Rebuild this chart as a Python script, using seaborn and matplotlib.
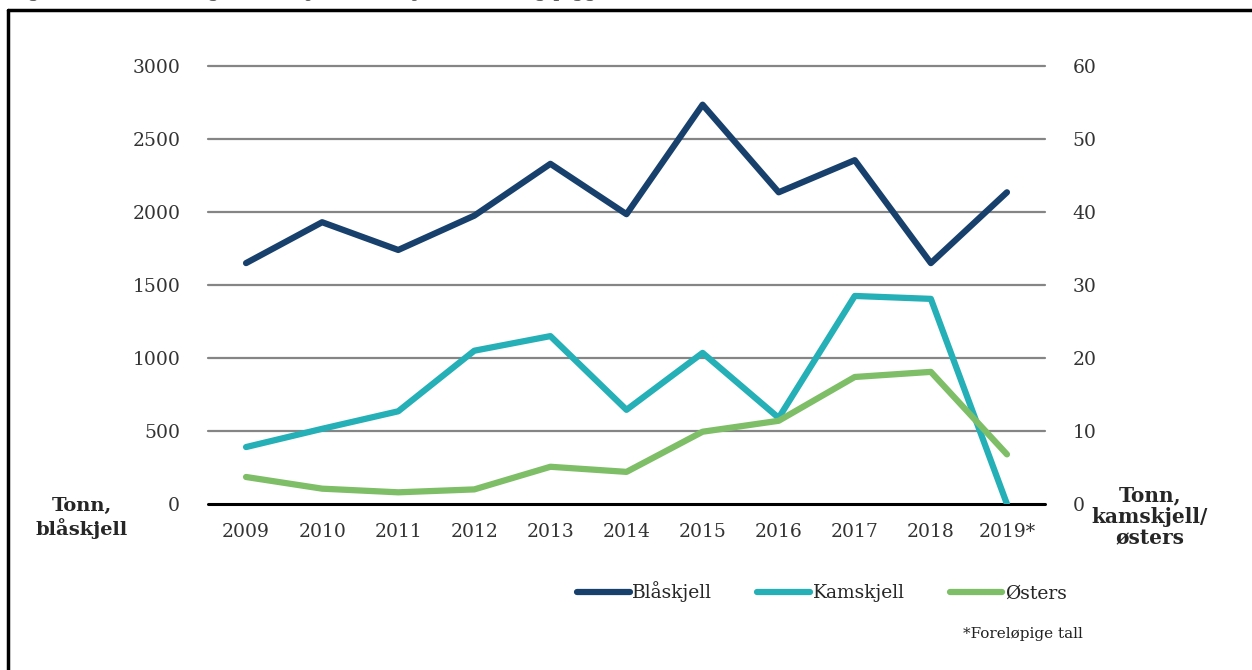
import matplotlib
matplotlib.use("Agg")
import matplotlib.pyplot as plt
from matplotlib.lines import Line2D
import seaborn as sns
import pandas as pd

# data
years = ['2009', '2010', '2011', '2012', '2013', '2014', '2015', '2016', '2017', '2018', '2019*']
blaaskjell = [1650, 1930, 1740, 1975, 2330, 1985, 2735, 2135, 2355, 1650, 2135]   # left axis, tonn
kamskjell = [7.8, 10.3, 12.7, 21.0, 23.0, 12.9, 20.7, 11.8, 28.5, 28.1, 0.0]       # right axis, tonn
osters = [3.7, 2.1, 1.6, 2.0, 5.1, 4.4, 9.9, 11.4, 17.4, 18.1, 6.8]               # right axis, tonn

left_ticks = [0, 500, 1000, 1500, 2000, 2500, 3000]
right_ticks = [0, 10, 20, 30, 40, 50, 60]

colors = {'Blåskjell': '#17406d', 'Kamskjell': '#24b0b6', 'Østers': '#7dbe66'}

df = pd.DataFrame({'År': years, 'Blåskjell': blaaskjell,
                   'Kamskjell': kamskjell, 'Østers': osters})

sns.set_style("white")
plt.rcParams['font.family'] = ['DejaVu Serif']

fig = plt.figure(figsize=(12.52, 6.70), dpi=100)
ax = fig.add_axes([208 / 1252, 1 - 504 / 670, (1045 - 208) / 1252, (504 - 66) / 670])
ax2 = ax.twinx()

lw = 4.5
kw = dict(solid_capstyle='round', solid_joinstyle='round')
sns.lineplot(data=df, x='År', y='Blåskjell', ax=ax, color=colors['Blåskjell'],
             linewidth=lw, sort=False, **kw)
sns.lineplot(data=df, x='År', y='Kamskjell', ax=ax2, color=colors['Kamskjell'],
             linewidth=lw, sort=False, **kw)
sns.lineplot(data=df, x='År', y='Østers', ax=ax2, color=colors['Østers'],
             linewidth=lw, sort=False, **kw)

ax.set_xlim(-0.5, len(years) - 0.5)
ax.set_ylim(0, 3000)
ax2.set_ylim(0, 60)
ax.set_yticks(left_ticks)
ax2.set_yticks(right_ticks)
ax.set_xticks(range(len(years)))
ax.set_xticklabels(years)

# horizontal grid
for t in left_ticks[1:]:
    ax.axhline(t, color='#858585', linewidth=1.6, zorder=0, clip_on=False)
ax.axhline(0, color='black', linewidth=2.2, zorder=1, clip_on=False)

for a in (ax, ax2):
    for s in a.spines.values():
        s.set_visible(False)
    a.tick_params(length=0, labelsize=13.5, labelcolor='#333333')
    a.set_xlabel('')
    a.set_ylabel('')
ax.tick_params(axis='y', pad=20)
ax2.tick_params(axis='y', pad=20)
ax.tick_params(axis='x', pad=14)

# axis titles
fig.text(82 / 1252, 1 - 518 / 670, 'Tonn,\nblåskjell', ha='center', va='center',
         fontsize=14, fontweight='bold', linespacing=1.15)
fig.text(1150 / 1252, 1 - 517 / 670, 'Tonn,\nkamskjell/\nøsters', ha='center', va='center',
         fontsize=14.5, fontweight='bold', linespacing=1.1)

# legend
handles = [Line2D([], [], color=colors[k], linewidth=4.5, solid_capstyle='round') for k in colors]
fig.legend(handles, list(colors.keys()), loc='center', bbox_to_anchor=(822 / 1252, 1 - 592 / 670),
           ncol=3, frameon=False, fontsize=13.5, handlelength=2.8, handletextpad=0.15,
           columnspacing=2.4)

fig.text(1083 / 1252, 1 - 634 / 670, '*Foreløpige tall', ha='right', va='center',
         fontsize=11, color='#222222')

# caption above the frame, mostly cut off in the reference
fig.text(8 / 1252, 1 + 3 / 670, 'Figur 4.4: Omsetning av blåskjell, kamskjell, østers og pigghuder 2009-2019',
         ha='left', va='baseline', fontsize=14, color='#555555')

# frame (only left and top edges inside the picture)
fig.add_artist(Line2D([8 / 1252, 8 / 1252], [0, 1 - 10 / 670], color='black', linewidth=2.5,
                      transform=fig.transFigure))
fig.add_artist(Line2D([8 / 1252, 1], [1 - 10 / 670, 1 - 10 / 670], color='black', linewidth=2.5,
                      transform=fig.transFigure))

fig.savefig('out.png', dpi=100, facecolor='white')
